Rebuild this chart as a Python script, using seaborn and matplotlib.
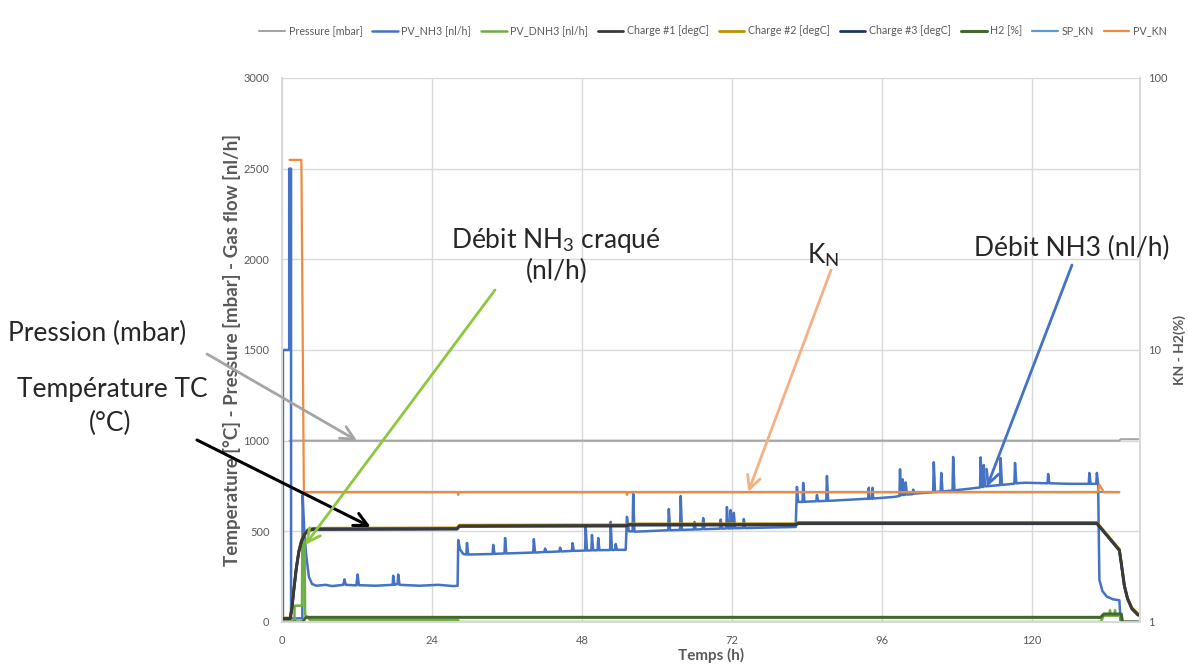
import matplotlib
matplotlib.use("Agg")
import matplotlib.pyplot as plt
from matplotlib.ticker import NullLocator, FixedLocator
import pandas as pd
import seaborn as sns

# ---------------- data ----------------
x_ticks = [0, 24, 48, 72, 96, 120]
y_ticks_left = [0, 500, 1000, 1500, 2000, 2500, 3000]
y_ticks_right = [1, 10, 100]
y_ticklabels_right = ["1", "10", "100"]

pressure_t = [1.2, 134.0, 134.2, 137.0]
pressure_v = [1000, 1000, 1008, 1008]

nh3_t = [0.0, 0.15, 0.15, 1.15, 1.15, 1.45, 1.45, 3.25, 3.3, 3.6, 3.9, 4.3, 4.8, 5.5,
         7.0, 8.0, 9.8, 10.0, 10.2, 11.9, 12.1, 12.3, 15.0, 17.7, 17.8, 18.0, 18.5, 18.6, 18.8,
         22.0, 25.0, 27.5, 28.1, 28.2, 28.5, 29.0, 29.5, 29.6, 29.8, 33.7, 33.8, 34.0,
         35.6, 35.7, 35.9, 40.2, 40.3, 40.5, 42.0, 42.1, 42.3, 44.4, 44.5, 44.7,
         46.4, 46.5, 46.7, 48.5, 48.6, 48.8, 49.5, 49.6, 49.8, 50.5, 50.6, 50.8,
         52.5, 52.6, 52.8, 53.3, 53.4, 53.6, 55.0, 55.2, 55.5, 56.1, 56.2, 56.4,
         60.0, 61.8, 61.9, 62.1, 63.7, 63.8, 64.0, 65.9, 66.0, 66.2, 67.3, 67.4, 67.6,
         70.1, 70.2, 70.4, 71.1, 71.2, 71.4, 71.7, 71.8, 72.0, 72.2, 72.3, 72.5,
         73.8, 73.9, 74.1, 78.0, 82.2, 82.4, 82.6, 83.3, 83.4, 83.6, 85.5, 85.6, 85.8,
         87.1, 87.2, 87.4, 90.0, 93.8, 93.9, 94.0, 94.4, 94.5, 94.6, 98.0, 98.8, 98.9, 99.0,
         99.2, 99.3, 99.5, 99.7, 99.8, 100.0, 100.9, 101.0, 101.2, 104.2, 104.3, 104.5,
         105.4, 105.5, 105.7, 107.3, 107.4, 107.6, 110.0, 111.7, 111.8, 112.0, 112.2, 112.3, 112.5,
         114.9, 115.0, 115.2, 117.2, 117.3, 117.5, 119.0, 122.5, 122.6, 122.8, 126.0,
         129.1, 129.2, 129.4, 130.3, 130.4, 130.6, 130.8, 131.3, 132.0, 133.0, 134.0, 134.2, 137.0]
nh3_v = [20, 20, 1500, 1500, 2500, 2500, 20, 20, 700, 480, 360, 250, 210, 200,
         205, 198, 205, 235, 205, 202, 262, 203, 200, 205, 255, 205, 210, 262, 205,
         200, 205, 198, 200, 452, 400, 375, 372, 436, 372, 375, 425, 376,
         378, 463, 378, 383, 457, 383, 386, 405, 386, 389, 410, 389,
         392, 435, 392, 394, 524, 394, 395, 480, 395, 396, 463, 396,
         397, 552, 397, 398, 430, 398, 398, 580, 500, 500, 706, 498,
         503, 506, 623, 506, 508, 695, 508, 510, 552, 510, 512, 573, 512,
         515, 565, 515, 516, 634, 516, 516, 617, 516, 516, 602, 517,
         518, 568, 518, 521, 524, 745, 662, 662, 767, 663, 666, 700, 666,
         668, 805, 668, 673, 680, 740, 680, 681, 740, 681, 690, 695, 842, 700,
         700, 787, 700, 702, 770, 703, 705, 730, 708, 716, 881, 716,
         720, 822, 720, 725, 910, 726, 735, 742, 908, 745, 745, 866, 748,
         755, 904, 756, 763, 877, 765, 768, 765, 816, 765, 762,
         762, 822, 762, 762, 822, 760, 232, 170, 140, 125, 120, 0, 0]

dnh3_t = [0.0, 2.0, 2.0, 3.2, 3.25, 3.6, 3.7, 4.5, 28.2, 28.3, 131.0, 131.5, 132.4, 132.5,
          132.6, 133.2, 133.3, 133.4, 134.3, 134.4, 137.0]
dnh3_v = [0, 0, 90, 90, 450, 450, 40, 10, 10, 0, 0, 35, 35, 65, 35, 35, 65, 35, 35, 0, 0]

temp_t = [0.0, 1.3, 1.6, 1.9, 2.3, 2.7, 3.1, 3.6, 4.2, 5.0, 28.0, 28.4, 55.0, 55.4,
          82.2, 82.6, 130.4, 134.0, 134.4, 134.8, 135.3, 136.0, 137.0]
charge1_v = [20, 20, 80, 180, 300, 390, 445, 485, 507, 513, 515, 530, 532, 537,
             538, 545, 545, 397, 300, 200, 130, 75, 40]
charge2_v = [22, 22, 85, 185, 305, 395, 450, 490, 511, 517, 519, 534, 536, 541,
             542, 549, 549, 401, 304, 204, 134, 79, 44]
charge3_v = [18, 18, 76, 176, 296, 386, 441, 482, 504, 510, 512, 527, 529, 534,
             535, 542, 542, 394, 297, 197, 127, 72, 37]

h2_t = [0.0, 3.3, 3.8, 131.0, 131.5, 134.3, 134.5, 137.0]
h2_v = [1.0, 1.0, 1.04, 1.04, 1.07, 1.07, 1.0, 1.0]

pv_kn_t = [1.2, 3.1, 3.5, 28.1, 28.2, 28.3, 55.1, 55.2, 55.3, 130.5, 130.8, 131.5, 134.0]
pv_kn_v = [50, 50, 3.0, 3.0, 2.93, 3.0, 3.0, 2.93, 3.0, 3.0, 3.2, 3.0, 3.0]
sp_kn_t = [3.5, 134.0]
sp_kn_v = [3.0, 3.0]

# ---------------- style ----------------
sns.set_theme(style="white")
plt.rcParams["font.family"] = ["Lato", "DejaVu Sans"]
plt.rcParams["mathtext.fontset"] = "custom"
plt.rcParams["mathtext.rm"] = "Lato"
plt.rcParams["mathtext.it"] = "Lato:italic"
plt.rcParams["mathtext.bf"] = "Lato:bold"

GRID = "#D9D9D9"
TXT = "#595959"

fig = plt.figure(figsize=(11.88, 6.67), dpi=100)
W, H = 1188, 667
ax = fig.add_axes([282 / W, 1 - 622 / H, (1140 - 282) / W, (622 - 78) / H])
ax2 = ax.twinx()

def line(a, t, v, color, lw, label, z=2):
    df = pd.DataFrame({"t": t, "v": v})
    sns.lineplot(data=df, x="t", y="v", ax=a, estimator=None, sort=False,
                 color=color, lw=lw, label=label, zorder=z)

line(ax, pressure_t, pressure_v, "#A5A5A5", 1.5, "Pressure [mbar]")
line(ax, nh3_t, nh3_v, "#4472C4", 1.8, "PV_NH3 [nl/h]")
line(ax, dnh3_t, dnh3_v, "#70AD47", 1.8, "PV_DNH3 [nl/h]")
line(ax, temp_t, charge2_v, "#BF9000", 2.0, "Charge #2 [degC]")
line(ax, temp_t, charge3_v, "#203864", 2.0, "Charge #3 [degC]")
line(ax, temp_t, charge1_v, "#3A3A3A", 2.0, "Charge #1 [degC]")
line(ax2, h2_t, h2_v, "#43682B", 2.2, "H2 [%]")
line(ax2, sp_kn_t, sp_kn_v, "#5B9BD5", 1.6, "SP_KN")
line(ax2, pv_kn_t, pv_kn_v, "#F08A3E", 1.6, "PV_KN")

for a in (ax, ax2):
    if a.get_legend() is not None:
        a.get_legend().remove()

ax.set_xlim(0, 137.3)
ax.set_ylim(0, 3000)
ax.set_xticks(x_ticks)
ax.set_yticks(y_ticks_left)
ax.grid(True, color=GRID, lw=1)
ax.set_axisbelow(True)

ax2.set_yscale("log")
ax2.set_ylim(1, 100)
ax2.yaxis.set_major_locator(FixedLocator(y_ticks_right))
ax2.set_yticklabels(y_ticklabels_right)
ax2.yaxis.set_minor_locator(NullLocator())
ax2.grid(False)

for a in (ax, ax2):
    for s in a.spines.values():
        s.set_color(GRID)
    a.spines["top"].set_visible(False)
ax.tick_params(axis="both", length=0, labelsize=8, labelcolor=TXT)
ax.tick_params(axis="y", pad=9)
ax.tick_params(axis="x", pad=9)
ax2.tick_params(axis="y", length=0, labelsize=8, labelcolor=TXT, pad=6)

ax.set_xlabel("Temps (h)", fontsize=11, fontweight="bold", color=TXT)
ax.xaxis.set_label_coords(0.5, -0.047)
ax.set_ylabel("Temperature [°C] - Pressure [mbar] - Gas flow [nl/h]", fontsize=13.5,
              fontweight="bold", color=TXT)
ax.yaxis.set_label_coords((241 - 282) / 858, 0.5)
ax2.set_ylabel("KN - H2(%)", fontsize=10, fontweight="bold", color=TXT)
ax2.yaxis.set_label_coords((1173 - 282) / 858, 0.5)

# legend
h1, l1 = ax.get_legend_handles_labels()
h2, l2 = ax2.get_legend_handles_labels()
hd = dict(zip(l1 + l2, h1 + h2))
order = ["Pressure [mbar]", "PV_NH3 [nl/h]", "PV_DNH3 [nl/h]", "Charge #1 [degC]",
         "Charge #2 [degC]", "Charge #3 [degC]", "H2 [%]", "SP_KN", "PV_KN"]
leg = fig.legend([hd[k] for k in order], order, ncol=9, loc="center",
                 bbox_to_anchor=(713 / W, 1 - 31 / H), frameon=False, fontsize=7.7,
                 handlelength=2.4, handletextpad=0.35, columnspacing=0.9)
for t in leg.get_texts():
    t.set_color(TXT)

# annotations
def fx(x):
    return x / W

def fy(y):
    return 1 - y / H

def arrow(tip, start, color, lw=2.0):
    ax2.annotate("", xy=tip, xycoords=ax.transData, xytext=(start[0], H - start[1]),
                 textcoords="figure pixels", annotation_clip=False,
                 arrowprops=dict(arrowstyle="->,head_length=0.8,head_width=0.4",
                                 color=color, lw=lw, shrinkA=0, shrinkB=0))

FS = 19
fig.text(fx(8), fy(333), "Pression (mbar)", fontsize=FS, ha="left", va="center")
fig.text(fx(112), fy(390), "Température TC", fontsize=FS, ha="center", va="center")
fig.text(fx(110), fy(423), "(°C)", fontsize=FS, ha="center", va="center")
fig.text(fx(556), fy(240), "Débit NH$_3$ craqué", fontsize=FS, ha="center", va="center")
fig.text(fx(557), fy(271), "(nl/h)", fontsize=FS, ha="center", va="center")
fig.text(fx(823), fy(255), "K$_\\mathrm{N}$", fontsize=FS, ha="center", va="center")
fig.text(fx(1072), fy(248), "Débit NH3 (nl/h)", fontsize=FS, ha="center", va="center")

arrow((12.0, 1000), (207, 354), "#A5A5A5", 2.0)
arrow((14.2, 524), (197, 440), "#000000", 2.2)
arrow((3.7, 425), (495, 290), "#8DC63F", 2.0)
arrow((74.6, 717), (831, 270), "#F4B183", 2.0)
arrow((112.8, 745), (1072, 265), "#4472C4", 2.0)

fig.savefig("out.png", dpi=100)
